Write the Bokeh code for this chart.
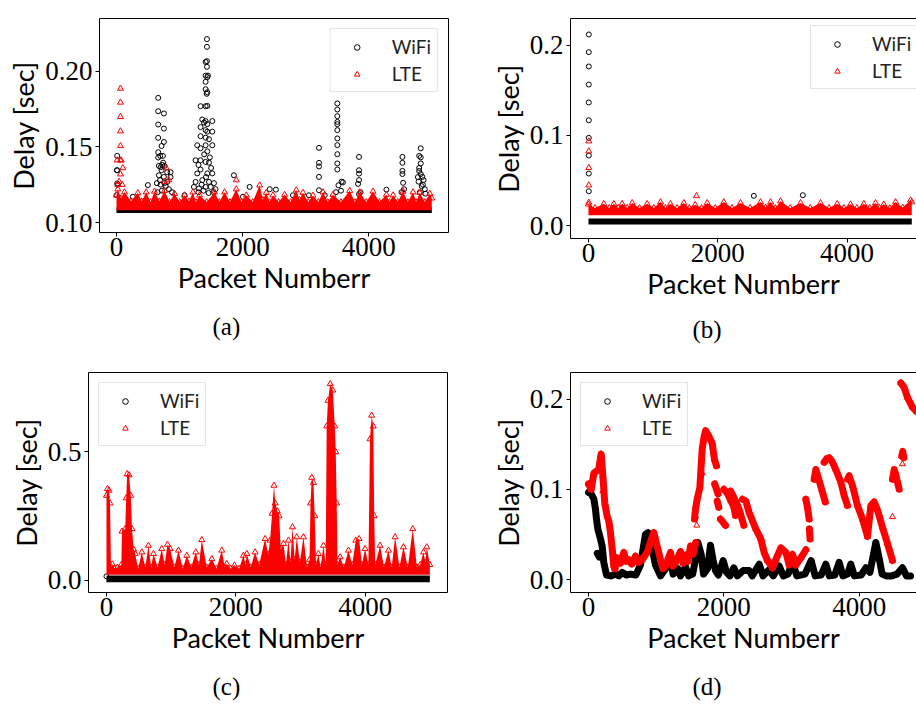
from bokeh.plotting import figure
from bokeh.models import (Range1d, FixedTicker, NumeralTickFormatter, Legend,
                          LegendItem, Title, LinearAxis)
from bokeh.layouts import column, row
from bokeh.embed import file_html
from bokeh.resources import INLINE

# ---------------- data ----------------
x_ticks = [0, 2000, 4000]
series_names = ["WiFi", "LTE"]
captions = ["(a)", "(b)", "(c)", "(d)"]

# (a) dense bands (visible edges), envelope of LTE band, outliers
wifi_a_band_x = [0, 5000]
wifi_a_band_lo = [0.1063, 0.1063]
wifi_a_band_hi = [0.1100, 0.1100]
lte_a_floor = 0.1081
lte_a_env_x = [0, 21, 70, 127, 230, 339, 400, 471, 540, 603, 680, 762, 840, 921, 1000,
               1079, 1150, 1211, 1260, 1317, 1430, 1555, 1630, 1714, 1800, 1899, 1980,
               2058, 2160, 2270, 2320, 2375, 2430, 2481, 2570, 2666, 2760, 2851, 2900,
               2957, 3040, 3116, 3200, 3275, 3350, 3433, 3560, 3698, 3780, 3857, 3960,
               4068, 4170, 4280, 4330, 4386, 4460, 4544, 4620, 4703, 4750, 4809, 4890,
               4968, 5000]
lte_a_env_hi = [0.118, 0.122, 0.116, 0.120, 0.114, 0.1195, 0.114, 0.120, 0.1135, 0.1205,
                0.114, 0.121, 0.1135, 0.119, 0.1135, 0.118, 0.114, 0.120, 0.1135, 0.118,
                0.1135, 0.120, 0.1135, 0.120, 0.1135, 0.122, 0.1135, 0.118, 0.1135,
                0.1246, 0.115, 0.1197, 0.1135, 0.118, 0.1135, 0.1184, 0.1135, 0.1214,
                0.115, 0.1197, 0.1135, 0.1178, 0.1135, 0.120, 0.1135, 0.1184, 0.1135,
                0.121, 0.1135, 0.120, 0.1135, 0.1205, 0.1135, 0.1184, 0.1135, 0.118,
                0.1135, 0.1205, 0.1135, 0.120, 0.1135, 0.1197, 0.1135, 0.1191, 0.116]
wifi_a_points = [
    (0, 0.118), (5, 0.1345), (11, 0.144), (11, 0.1345), (11, 0.1258), (20, 0.125),
    (259, 0.117), (497, 0.1247),
    (640, 0.126), (650, 0.120), (661, 0.1823), (661, 0.1735), (661, 0.1647), (661, 0.1559),
    (661, 0.1464), (661, 0.1429), (672, 0.1374), (672, 0.1312), (690, 0.128), (693, 0.144),
    (700, 0.1365), (700, 0.125), (714, 0.1505), (714, 0.1345), (720, 0.121), (725, 0.138),
    (735, 0.144), (740, 0.1395), (751, 0.172), (751, 0.162), (751, 0.1532), (751, 0.1301),
    (760, 0.126), (762, 0.1374), (780, 0.124), (804, 0.1332), (804, 0.1268), (830, 0.122),
    (857, 0.1332), (857, 0.130), (880, 0.120), (1079, 0.118),
    (1227, 0.1235), (1254, 0.1411), (1254, 0.1268), (1280, 0.151), (1280, 0.1324),
    (1300, 0.138), (1300, 0.120), (1307, 0.1225), (1333, 0.1768), (1333, 0.163),
    (1333, 0.157), (1333, 0.149), (1333, 0.1411), (1333, 0.135), (1350, 0.125),
    (1360, 0.168), (1360, 0.128), (1380, 0.121), (1387, 0.166), (1390, 0.145),
    (1413, 0.206), (1413, 0.197), (1413, 0.1929), (1413, 0.188), (1413, 0.1768),
    (1413, 0.167), (1413, 0.161), (1413, 0.156), (1413, 0.151), (1413, 0.140),
    (1413, 0.1235), (1420, 0.130), (1430, 0.185), (1434, 0.2211), (1434, 0.216),
    (1434, 0.2065), (1434, 0.2028), (1440, 0.196), (1440, 0.186), (1440, 0.177),
    (1440, 0.165), (1440, 0.160), (1440, 0.147), (1440, 0.1324), (1450, 0.197),
    (1460, 0.1195), (1466, 0.155), (1466, 0.1395), (1466, 0.1268), (1480, 0.143),
    (1493, 0.1235), (1500, 0.136), (1519, 0.167), (1519, 0.160), (1519, 0.151),
    (1519, 0.1324), (1540, 0.120), (1545, 0.126), (1570, 0.122),
    (1862, 0.1312), (2005, 0.117), (2111, 0.1235), (2430, 0.122), (2527, 0.1217),
    (2798, 0.118), (3052, 0.118), (3302, 0.118),
    (3211, 0.1493), (3211, 0.1394), (3211, 0.137), (3211, 0.1301), (3211, 0.1213),
    (3480, 0.120), (3502, 0.1786), (3502, 0.1746), (3502, 0.1702), (3502, 0.1664),
    (3502, 0.1649), (3502, 0.161), (3502, 0.1555), (3502, 0.1511), (3502, 0.1451),
    (3502, 0.139), (3502, 0.135), (3520, 0.1246), (3560, 0.121), (3570, 0.127),
    (3590, 0.1265), (3830, 0.1255), (3846, 0.1433), (3846, 0.1345), (3846, 0.1323),
    (3846, 0.128), (3846, 0.1187), (3870, 0.120), (4280, 0.1217),
    (4520, 0.120), (4534, 0.1433), (4534, 0.1394), (4534, 0.1341), (4534, 0.132),
    (4545, 0.1262), (4560, 0.122),
    (4780, 0.130), (4790, 0.127), (4800, 0.144), (4800, 0.136), (4800, 0.134),
    (4810, 0.120), (4825, 0.149), (4825, 0.143), (4825, 0.139), (4825, 0.132),
    (4840, 0.124), (4850, 0.1301), (4860, 0.125), (4870, 0.128), (4890, 0.122),
    (4900, 0.119)]
lte_a_points = [(11, 0.1411), (20, 0.125), (40, 0.127), (63, 0.1885), (63, 0.1793),
                (63, 0.1698), (63, 0.1603), (63, 0.1506), (63, 0.1411), (74, 0.1411),
                (63, 0.1319), (90, 0.125), (100, 0.136), (760, 0.127), (789, 0.136),
                (831, 0.128), (1900, 0.128)]

# (b)
wifi_b_band_x = [0, 5000]
wifi_b_band_lo = [0.0011, 0.0011]
wifi_b_band_hi = [0.0078, 0.0078]
lte_b_floor = 0.0114
lte_b_env_x = [0, 100, 237, 320, 392, 460, 521, 600, 676, 790, 907, 1010, 1114, 1190,
               1268, 1370, 1475, 1560, 1650, 1750, 1836, 1960, 2093, 2220, 2351, 2500,
               2661, 2740, 2816, 2890, 2970, 3120, 3280, 3430, 3589, 3720, 3847, 3950,
               4053, 4150, 4259, 4350, 4440, 4500, 4568, 4660, 4749, 4860, 4981, 5000]
lte_b_env_hi = [0.0235, 0.0195, 0.024, 0.0195, 0.024, 0.0195, 0.024, 0.0195, 0.025,
                0.0195, 0.024, 0.0195, 0.026, 0.0195, 0.024, 0.0195, 0.025, 0.0195,
                0.023, 0.0195, 0.025, 0.0195, 0.026, 0.0195, 0.025, 0.0195, 0.026,
                0.020, 0.026, 0.0195, 0.027, 0.0195, 0.025, 0.0195, 0.025, 0.0195,
                0.024, 0.0195, 0.0235, 0.0195, 0.024, 0.0195, 0.025, 0.0195, 0.0235,
                0.0195, 0.026, 0.020, 0.028, 0.026]
wifi_b_points = [(5, 0.2118), (5, 0.1922), (5, 0.1763), (5, 0.1563), (5, 0.1364),
                 (5, 0.1167), (5, 0.0972), (5, 0.0776), (5, 0.0576), (5, 0.038),
                 (2557, 0.0329), (3315, 0.0336)]
lte_b_points = [(5, 0.0935), (5, 0.0824), (5, 0.064), (5, 0.0447), (5, 0.0255),
                (1670, 0.0328)]

# (c)
wifi_c_band_x = [0, 5000]
wifi_c_band_lo = [-0.008, -0.008]
wifi_c_band_hi = [0.018, 0.018]
lte_c_floor = 0.021
lte_c_env_x = [0, 15, 40, 55, 70, 92, 120, 170, 230, 240, 290, 305, 320, 350, 375, 395,
               420, 443, 490, 546, 600, 649, 690, 727, 790, 855, 900, 943, 985, 1050,
               1113, 1180, 1242, 1310, 1381, 1430, 1474, 1550, 1629, 1700, 1783, 1830,
               1860, 1920, 1979, 2050, 2118, 2150, 2170, 2230, 2298, 2360, 2453, 2500,
               2530, 2560, 2590, 2610, 2640, 2670, 2695, 2737, 2775, 2814, 2845, 2876,
               2910, 2943, 2990, 3046, 3100, 3140, 3155, 3174, 3200, 3220, 3240, 3277,
               3310, 3355, 3390, 3405, 3425, 3460, 3500, 3530, 3545, 3560, 3572, 3613,
               3670, 3741, 3800, 3855, 3906, 3950, 3999, 4050, 4075, 4100, 4125, 4140,
               4155, 4231, 4290, 4360, 4410, 4463, 4530, 4592, 4660, 4736, 4800, 4850,
               4901, 4930, 4953, 5000]
lte_c_env_hi = [0.33, 0.356, 0.35, 0.30, 0.05, 0.062, 0.045, 0.05, 0.06, 0.19, 0.20,
                0.32, 0.414, 0.41, 0.33, 0.20, 0.12, 0.103, 0.045, 0.109, 0.05, 0.135,
                0.05, 0.103, 0.05, 0.122, 0.06, 0.139, 0.122, 0.05, 0.116, 0.045, 0.096,
                0.05, 0.109, 0.06, 0.157, 0.05, 0.083, 0.045, 0.116, 0.05, 0.064, 0.045,
                0.058, 0.045, 0.096, 0.06, 0.103, 0.05, 0.109, 0.06, 0.161, 0.10, 0.155,
                0.26, 0.369, 0.30, 0.27, 0.25, 0.12, 0.142, 0.06, 0.155, 0.07, 0.207,
                0.08, 0.168, 0.07, 0.168, 0.05, 0.08, 0.30, 0.40, 0.38, 0.25, 0.06,
                0.103, 0.05, 0.135, 0.06, 0.60, 0.70, 0.765, 0.74, 0.60, 0.50, 0.30,
                0.06, 0.09, 0.05, 0.116, 0.06, 0.155, 0.161, 0.06, 0.122, 0.06, 0.55,
                0.642, 0.60, 0.25, 0.06, 0.135, 0.05, 0.116, 0.05, 0.168, 0.05, 0.129,
                0.05, 0.20, 0.05, 0.06, 0.109, 0.07, 0.129, 0.06]
wifi_c_points = [(0, 0.015)]

# (d) tracks of consecutive packets (vertex readings), plus isolated points
wifi_d_tracks = [
    [(0, 0.0965), (40, 0.095), (80, 0.089), (103, 0.078), (118, 0.067), (138, 0.056),
     (177, 0.045), (202, 0.037), (226, 0.019), (266, 0.005), (330, 0.004), (400, 0.006),
     (450, 0.004), (500, 0.008), (560, 0.005), (620, 0.006), (700, 0.005), (768, 0.016),
     (842, 0.050), (880, 0.052), (940, 0.034), (990, 0.016), (1064, 0.004),
     (1140, 0.012), (1212, 0.022), (1250, 0.006), (1320, 0.012), (1360, 0.004),
     (1434, 0.014), (1480, 0.004), (1540, 0.006), (1580, 0.022), (1616, 0.041),
     (1665, 0.028), (1700, 0.006), (1760, 0.012), (1803, 0.038), (1840, 0.022),
     (1877, 0.010), (1920, 0.005), (1990, 0.021), (2040, 0.008), (2090, 0.004),
     (2148, 0.013), (2200, 0.004), (2290, 0.010), (2375, 0.010), (2420, 0.004),
     (2523, 0.017), (2580, 0.004), (2670, 0.011), (2730, 0.004), (2818, 0.015),
     (2880, 0.004), (2950, 0.006), (3015, 0.019), (3080, 0.004), (3200, 0.006),
     (3291, 0.021), (3350, 0.004), (3440, 0.005), (3508, 0.017), (3560, 0.004),
     (3640, 0.005), (3705, 0.019), (3760, 0.004), (3830, 0.006), (3877, 0.017),
     (3930, 0.004), (4030, 0.005), (4099, 0.013), (4160, 0.008), (4247, 0.041),
     (4300, 0.022), (4340, 0.006), (4400, 0.004), (4480, 0.004), (4560, 0.006),
     (4641, 0.013), (4700, 0.004), (4760, 0.004)],
    [(130, 0.029), (160, 0.025)],
]
lte_d_tracks = [
    [(0, 0.106), (40, 0.100), (80, 0.118), (150, 0.122), (187, 0.139), (212, 0.115),
     (240, 0.085), (276, 0.070), (300, 0.065), (325, 0.052), (350, 0.034), (374, 0.015),
     (390, 0.012)],
    [(390, 0.012), (424, 0.024), (470, 0.018), (522, 0.030), (560, 0.020), (596, 0.022),
     (640, 0.017), (695, 0.026), (740, 0.019), (793, 0.022), (867, 0.030), (930, 0.045),
     (966, 0.052), (1015, 0.037), (1064, 0.022), (1100, 0.012), (1138, 0.015),
     (1212, 0.030), (1250, 0.015), (1286, 0.019), (1360, 0.031), (1400, 0.018),
     (1434, 0.027), (1470, 0.020), (1508, 0.037), (1545, 0.028), (1582, 0.041)],
    [(1567, 0.067), (1582, 0.078), (1606, 0.089), (1646, 0.102), (1680, 0.144),
     (1705, 0.157), (1730, 0.165), (1779, 0.159), (1828, 0.151), (1862, 0.133),
     (1892, 0.126)],
    [(1865, 0.106), (1915, 0.095)],
    [(1902, 0.087), (1926, 0.080)],
    [(1951, 0.067), (2025, 0.060)],
    [(2000, 0.100), (2050, 0.096), (2100, 0.088), (2150, 0.080), (2172, 0.071)],
    [(2100, 0.098), (2130, 0.094), (2180, 0.086), (2230, 0.077), (2296, 0.060)],
    [(2276, 0.089), (2325, 0.087), (2375, 0.074), (2473, 0.056), (2547, 0.045),
     (2596, 0.030), (2646, 0.021), (2720, 0.013)],
    [(2720, 0.013), (2769, 0.022), (2843, 0.035), (2917, 0.030), (2966, 0.016),
     (3015, 0.028), (3065, 0.016), (3139, 0.024), (3213, 0.033)],
    [(3212, 0.089), (3237, 0.080), (3261, 0.067)],
    [(3265, 0.056), (3275, 0.045)],
    [(3335, 0.111), (3360, 0.122), (3400, 0.112), (3450, 0.099), (3500, 0.086)],
    [(3483, 0.130), (3520, 0.134), (3557, 0.135), (3600, 0.131), (3655, 0.122),
     (3730, 0.108), (3779, 0.093), (3828, 0.082)],
    [(3828, 0.111), (3852, 0.115), (3902, 0.104), (3976, 0.082), (4050, 0.067),
     (4124, 0.048)],
    [(4124, 0.048), (4173, 0.082), (4222, 0.086), (4271, 0.077), (4345, 0.058),
     (4419, 0.040), (4493, 0.021)],
    [(4493, 0.111), (4518, 0.122), (4542, 0.116), (4592, 0.100)],
    [(4630, 0.137), (4645, 0.142), (4660, 0.135)],
    [(4616, 0.218), (4665, 0.213), (4714, 0.202), (4788, 0.191), (4850, 0.186)],
]
lte_d_points = [(212, 0.098), (1680, 0.118), (4493, 0.0695), (4640, 0.128),
                (1582, 0.070), (1600, 0.060)]

# ---------------- styling ----------------
BLACK = "#000000"
RED = "#ff0000"
TICK_FONT = "Liberation Serif"
LABEL_FONT = "Lato"


def unzip(pts):
    return [p[0] for p in pts], [p[1] for p in pts]


def make_fig(fw, fh, bl, br, bt, bb, xr, yr, yticks, yfmt, open_right, cap, cap_off,
             cap_standoff):
    p = figure(frame_width=fw, frame_height=fh, min_border_left=bl, min_border_right=br,
               min_border_top=bt, min_border_bottom=bb, x_range=Range1d(*xr),
               y_range=Range1d(*yr), output_backend="svg", toolbar_location=None,
               tools="", background_fill_color="white", border_fill_color="white")
    p.xgrid.visible = False
    p.ygrid.visible = False
    p.xaxis.ticker = FixedTicker(ticks=x_ticks)
    p.yaxis.ticker = FixedTicker(ticks=yticks)
    p.yaxis.formatter = NumeralTickFormatter(format=yfmt)
    p.xaxis.axis_label = "Packet Numberr"
    p.yaxis.axis_label = "Delay [sec]"
    for ax in (p.xaxis, p.yaxis):
        ax.major_label_text_font = TICK_FONT
        ax.major_label_text_font_size = "27px"
        ax.major_label_text_color = BLACK
        ax.axis_label_text_font = LABEL_FONT
        ax.axis_label_text_font_size = "27px"
        ax.axis_label_text_font_style = "normal"
        ax.axis_label_text_color = BLACK
        ax.major_tick_in = 0
        ax.major_tick_out = 4
        ax.major_tick_line_color = BLACK
        ax.minor_tick_line_color = None
        ax.axis_label_standoff = 2
    p.xaxis.major_label_standoff = 1
    p.yaxis.major_label_standoff = 3
    if open_right:
        p.outline_line_color = None
        p.xaxis.axis_line_color = BLACK
        p.yaxis.axis_line_color = BLACK
        top = LinearAxis(ticker=FixedTicker(ticks=[]), major_label_text_font_size="0px",
                         major_tick_out=0, major_tick_in=0, minor_tick_out=0,
                         minor_tick_in=0, axis_line_color=BLACK)
        p.add_layout(top, "above")
    else:
        p.outline_line_color = BLACK
        p.outline_line_alpha = 1
        p.xaxis.axis_line_color = None
        p.yaxis.axis_line_color = None
    p.add_layout(Title(text=cap, align="left", offset=cap_off, standoff=cap_standoff,
                       text_font=TICK_FONT, text_font_size="25px",
                       text_font_style="normal", text_color=BLACK), "below")
    return p


def wifi_marks(p, pts):
    x, y = unzip(pts)
    return p.scatter(x, y, marker="circle", size=5, fill_color=None,
                     line_color=BLACK, line_width=1)


def lte_marks(p, pts):
    x, y = unzip(pts)
    return p.scatter(x, y, marker="triangle", size=6, fill_color=None,
                     line_color=RED, line_width=1)


def add_legend(p, rw, rl, **kw):
    leg = Legend(items=[LegendItem(label=series_names[0], renderers=[rw]),
                        LegendItem(label=series_names[1], renderers=[rl])],
                 padding=6, spacing=4, glyph_width=40, glyph_height=14,
                 label_standoff=15, label_height=20, label_text_font=LABEL_FONT,
                 label_text_font_size="19px", label_text_color="#222222",
                 border_line_color="#cccccc", border_line_width=1,
                 background_fill_color="white", background_fill_alpha=0.8, **kw)
    p.add_layout(leg)


def band(p, bx, lo, hi, color):
    p.varea(x=bx, y1=lo, y2=hi, fill_color=color, fill_alpha=1)


# ---- (a)
pa = make_fig(349, 214, 99, 10, 18, 120, (-270, 5265), (0.0934, 0.2347),
              [0.10, 0.15, 0.20], "0.00", False, captions[0], 113, 28)
band(pa, wifi_a_band_x, wifi_a_band_lo, wifi_a_band_hi, BLACK)
rwa = wifi_marks(pa, wifi_a_points)
band(pa, lte_a_env_x, [lte_a_floor] * len(lte_a_env_x), lte_a_env_hi, RED)
lte_marks(pa, list(zip(lte_a_env_x, lte_a_env_hi)))
rla = lte_marks(pa, lte_a_points)
add_legend(pa, rwa, rla, location="top_right", margin=10)

# ---- (b)
pb = make_fig(346, 220, 112, 0, 10, 122, (-278, 5073), (-0.0144, 0.2295),
              [0.0, 0.1, 0.2], "0.0", True, captions[1], 122, 22)
band(pb, wifi_b_band_x, wifi_b_band_lo, wifi_b_band_hi, BLACK)
rwb = wifi_marks(pb, wifi_b_points)
band(pb, lte_b_env_x, [lte_b_floor] * len(lte_b_env_x), lte_b_env_hi, RED)
lte_marks(pb, list(zip(lte_b_env_x, lte_b_env_hi)))
rlb = lte_marks(pb, lte_b_points)
add_legend(pb, rwb, rlb, location=(240, 149))

# ---- (c)
pc = make_fig(359, 220, 88, 11, 19, 113, (-278, 5273), (-0.048, 0.8094),
              [0.0, 0.5], "0.0", False, captions[2], 124, 29)
band(pc, wifi_c_band_x, wifi_c_band_lo, wifi_c_band_hi, BLACK)
rwc = wifi_marks(pc, wifi_c_points)
band(pc, lte_c_env_x, [lte_c_floor] * len(lte_c_env_x), lte_c_env_hi, RED)
rlc = lte_marks(pc, list(zip(lte_c_env_x, lte_c_env_hi)))
add_legend(pc, rwc, rlc, location="top_left", margin=10)

# ---- (d)
pd = make_fig(346, 220, 112, 0, 18, 114, (-266, 4848), (-0.0144, 0.2295),
              [0.0, 0.1, 0.2], "0.0", True, captions[3], 122, 29)
wx = [unzip(t)[0] for t in wifi_d_tracks]
wy = [unzip(t)[1] for t in wifi_d_tracks]
pd.multi_line(wx, wy, line_color=BLACK, line_width=7, line_cap="round", line_join="round")
rwd = wifi_marks(pd, [pt for t in wifi_d_tracks for pt in t])
lx = [unzip(t)[0] for t in lte_d_tracks]
ly = [unzip(t)[1] for t in lte_d_tracks]
pd.multi_line(lx, ly, line_color=RED, line_width=7, line_cap="round", line_join="round")
lte_marks(pd, [pt for t in lte_d_tracks for pt in t])
rld = lte_marks(pd, lte_d_points)
add_legend(pd, rwd, rld, location="top_left", margin=10)

layout = column(row(pa, pb), row(pc, pd))
open("out.html", "w").write(file_html(layout, INLINE))
